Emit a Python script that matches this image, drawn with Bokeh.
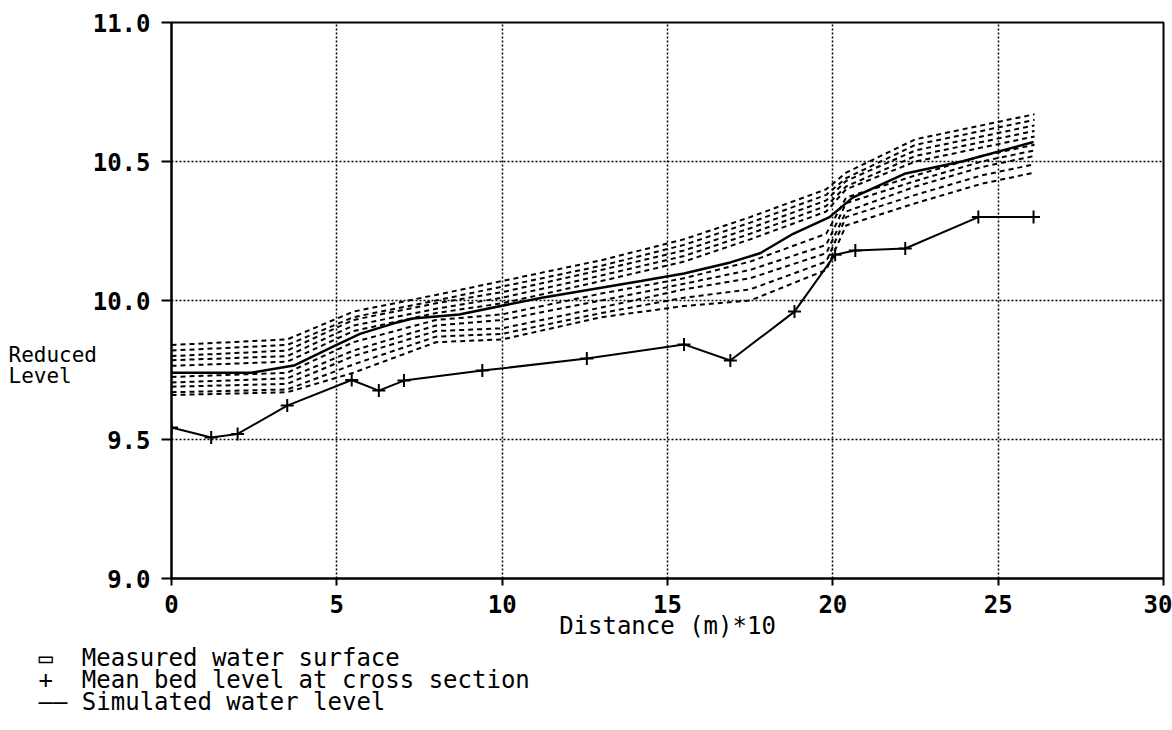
from bokeh.plotting import figure
from bokeh.models import FixedTicker, PrintfTickFormatter, Label, Range1d
from bokeh.embed import file_html
from bokeh.resources import INLINE

# ---------------- data ----------------
x_ticks = [0, 5, 10, 15, 20, 25, 30]
y_ticks = [9.0, 9.5, 10.0, 10.5, 11.0]

# mean bed level at cross sections (+)
bed_x = [0, 1.2, 2.0, 3.5, 5.45, 6.27, 7.03, 9.4, 12.56, 15.5, 16.9, 18.84, 20.07, 20.68, 22.19, 24.4, 26.07]
bed_y = [9.543, 9.507, 9.52, 9.622, 9.714, 9.676, 9.712, 9.748, 9.791, 9.842, 9.784, 9.96, 10.165, 10.18, 10.187, 10.30, 10.30]

# simulated water level (solid)
sim_x = [0, 2.4, 3.7, 4.9, 5.7, 6.7, 7.3, 8.7, 11.2, 14.2, 15.5, 16.9, 17.8, 18.8, 19.9, 20.6, 22.2, 23.9, 26.07]
sim_y = [9.74, 9.74, 9.766, 9.835, 9.88, 9.917, 9.935, 9.95, 10.01, 10.07, 10.097, 10.137, 10.17, 10.24, 10.30, 10.37, 10.457, 10.50, 10.57]

# measured water surfaces (dashed)
meas_x = [0, 3.5, 5.5, 8, 10, 13, 15.5, 17.5, 19.8, 20.4, 22.5, 24.5, 26.1]
meas_1 = [9.84, 9.86, 9.96, 10.02, 10.07, 10.145, 10.22, 10.30, 10.40, 10.46, 10.58, 10.63, 10.67]
meas_2 = [9.82, 9.84, 9.94, 10.00, 10.05, 10.125, 10.20, 10.28, 10.38, 10.44, 10.56, 10.61, 10.65]
meas_3 = [9.80, 9.82, 9.93, 9.99, 10.03, 10.11, 10.18, 10.26, 10.36, 10.43, 10.54, 10.59, 10.63]
meas_4 = [9.785, 9.80, 9.91, 9.97, 10.01, 10.09, 10.16, 10.24, 10.34, 10.41, 10.52, 10.57, 10.61]
meas_5 = [9.765, 9.78, 9.89, 9.955, 9.99, 10.07, 10.14, 10.22, 10.32, 10.40, 10.50, 10.55, 10.59]
meas_6 = [9.725, 9.74, 9.85, 9.93, 9.95, 10.025, 10.08, 10.14, 10.24, 10.37, 10.45, 10.52, 10.56]
meas_7 = [9.705, 9.72, 9.82, 9.91, 9.93, 10.0, 10.06, 10.11, 10.20, 10.35, 10.43, 10.50, 10.54]
meas_8 = [9.69, 9.70, 9.80, 9.89, 9.90, 9.975, 10.04, 10.08, 10.17, 10.32, 10.41, 10.48, 10.52]
meas_9 = [9.67, 9.68, 9.77, 9.87, 9.88, 9.955, 10.01, 10.04, 10.14, 10.30, 10.38, 10.45, 10.49]
meas_10 = [9.66, 9.67, 9.74, 9.85, 9.86, 9.94, 9.98, 10.00, 10.11, 10.27, 10.35, 10.42, 10.46]

NBSP = "\u00a0"
legend_symbols = ["\u25ad" + NBSP, "+" + NBSP, "\u2014\u2014"]
legend_texts = ["Measured water surface", "Mean bed level at cross section", "Simulated water level"]

FONT = "DejaVu Sans Mono"
FS = "24px"
W, H = 1172, 730

p = figure(width=W, height=H, output_backend="svg", toolbar_location=None,
           x_range=Range1d(0, 30), y_range=Range1d(9.0, 11.0),
           min_border_left=171, min_border_right=9, min_border_top=22, min_border_bottom=152)
p.background_fill_color = "white"
p.border_fill_color = "white"
p.outline_line_color = "black"
p.outline_line_width = 2

for ax in (p.xaxis[0], p.yaxis[0]):
    ax.axis_line_color = "black"
    ax.axis_line_width = 2
    ax.major_tick_line_color = "black"
    ax.major_tick_line_width = 2
    ax.major_tick_in = 0
    ax.minor_tick_line_color = None
    ax.major_label_text_font = FONT
    ax.major_label_text_font_size = FS
    ax.major_label_text_font_style = "bold"
    ax.major_label_text_color = "black"

p.xaxis.ticker = FixedTicker(ticks=x_ticks)
p.yaxis.ticker = FixedTicker(ticks=y_ticks)
p.yaxis.formatter = PrintfTickFormatter(format="%.1f")
p.xaxis.major_tick_out = 7
p.yaxis.major_tick_out = 10
p.xaxis.major_label_standoff = 9
p.yaxis.major_label_standoff = 11

p.xaxis.axis_label = "Distance (m)*10"
p.xaxis.axis_label_text_font = FONT
p.xaxis.axis_label_text_font_size = FS
p.xaxis.axis_label_text_font_style = "normal"
p.xaxis.axis_label_text_color = "black"
p.xaxis.axis_label_standoff = -4

p.grid.grid_line_color = "black"
p.grid.grid_line_dash = "2 2"
p.grid.grid_line_width = 1.5

# measured water surfaces
for ys in (meas_1, meas_2, meas_3, meas_4, meas_5, meas_6, meas_7, meas_8, meas_9, meas_10):
    p.line(meas_x, ys, line_color="black", line_width=2, line_dash="5 4")

# simulated
p.line(sim_x, sim_y, line_color="black", line_width=2.5)

# bed
p.line(bed_x, bed_y, line_color="black", line_width=2)
p.scatter(bed_x, bed_y, marker="cross", size=13, line_color="black", line_width=2)

# y-axis title in the left side panel (screen units: from panel's left / bottom)
p.add_layout(Label(x=8, y=190, x_units="screen", y_units="screen", text="Reduced\nLevel",
                   text_font=FONT, text_font_size="21px", text_color="black",
                   text_line_height=0.9, text_align="left", text_baseline="bottom"), "left")

# legend in the below side panel
legend_block = "\n".join(s + NBSP + t for s, t in zip(legend_symbols, legend_texts))
p.add_layout(Label(x=38 - 171, y=-1, x_units="screen", y_units="screen", text=legend_block,
                   text_font=FONT, text_font_size=FS, text_color="black",
                   text_line_height=0.8, text_align="left", text_baseline="bottom"), "below")

open("out.html", "w").write(file_html(p, INLINE))
